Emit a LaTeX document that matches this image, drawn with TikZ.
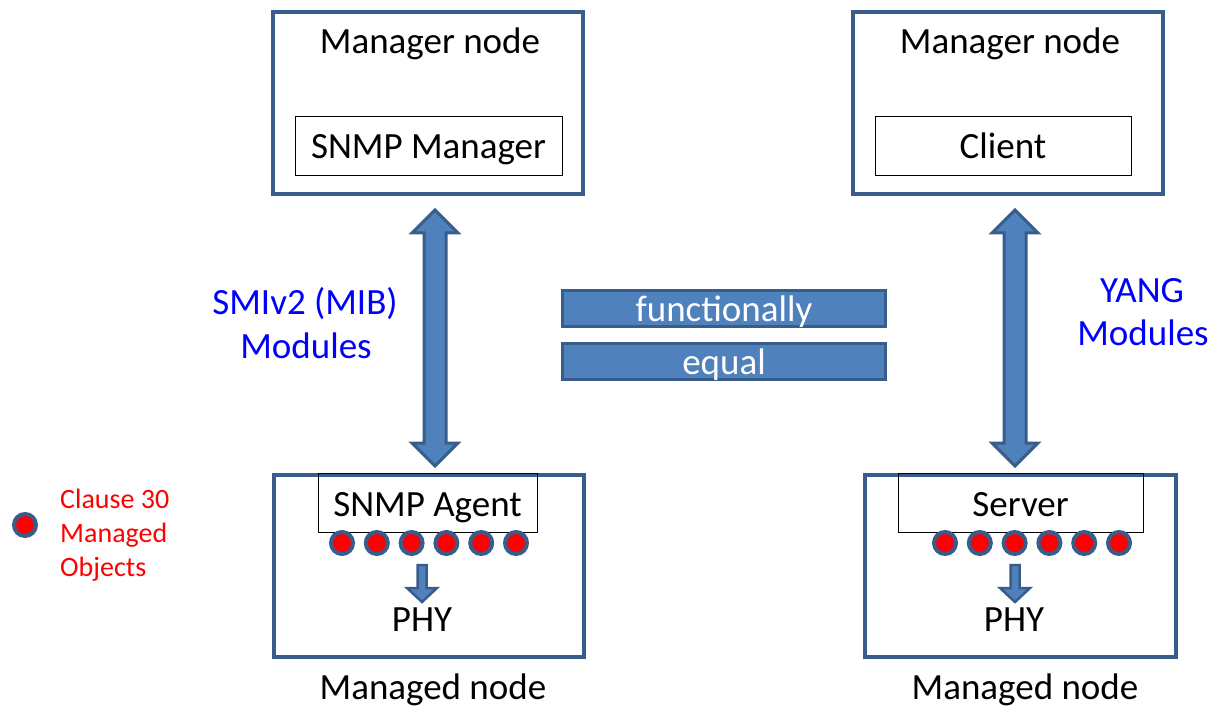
\documentclass[tikz,border=0pt]{standalone}
\usepackage{fontspec}
\setmainfont{Carlito}
\definecolor{edgeblue}{HTML}{385D8A}
\definecolor{shapeblue}{HTML}{4F81BD}
\definecolor{objred}{HTML}{FF0000}
\definecolor{modblue}{HTML}{0000FF}
\tikzset{
  nodebox/.style={draw=edgeblue, line width=4pt, inner sep=0pt, minimum height=182pt},
  innerbox/.style={draw=black, line width=0.9pt, inner sep=0pt, minimum height=59pt},
  lbl/.style={anchor=base, inner sep=0pt, font=\fontsize{37}{44}\selectfont},
  modlbl/.style={lbl, text=modblue},
  barlbl/.style={lbl, text=white},
  keytext/.style={anchor=base west, inner sep=0pt, text=objred, font=\fontsize{28}{33}\selectfont},
  mobj/.style={circle, draw=edgeblue, fill=objred, line width=4pt, minimum size=22pt, inner sep=0pt},
  eqbar/.style={draw=edgeblue, fill=shapeblue, line width=3pt, minimum width=323pt, minimum height=36pt, inner sep=0pt},
  blockarrow/.style={draw=edgeblue, fill=shapeblue, line width=3pt, line join=miter},
  twoway/.pic={
    \path[blockarrow] (0,-128) -- (23,-105) -- (11,-105) -- (11,105) -- (23,105)
      -- (0,128) -- (-23,105) -- (-11,105) -- (-11,-105) -- (-23,-105) -- cycle;
  },
  downstep/.pic={
    \path[blockarrow, line width=2.5pt] (-4.5,0) -- (4.5,0) -- (4.5,23) -- (15,23)
      -- (0,37) -- (-15,23) -- (-4.5,23) -- cycle;
  }
}
\begin{document}
\begin{tikzpicture}[x=1pt, y=-1pt]
\useasboundingbox (0,0) rectangle (1212,708);

% manager side (top)
\node[nodebox, minimum width=310pt] (mgrL) at (428,103) {};
\node[nodebox, minimum width=310pt] (mgrR) at (1008,103) {};
\node[lbl] (mgrLt) at (430,54) {Manager node};
\node[lbl] (mgrRt) at (1010,54) {Manager node};
\node[innerbox, minimum width=267pt] (snmpmgr) at (428.5,145.5) {};
\node[lbl] (snmpmgrt) at (428.5,159) {SNMP Manager};
\node[innerbox, minimum width=256pt] (client) at (1003,145.5) {};
\node[lbl] (clientt) at (1003,159) {Client};

% managed side (bottom)
\node[nodebox, minimum width=310pt] (mgdL) at (429,566) {};
\node[nodebox, minimum width=311pt] (mgdR) at (1020.5,566) {};
\node[innerbox, minimum width=219pt] (agent) at (427.5,502.5) {};
\node[lbl] (agentt) at (427.5,516) {SNMP Agent};
\node[innerbox, minimum width=245pt] (server) at (1020.5,502.5) {};
\node[lbl] (servert) at (1020.5,516) {Server};
\node[lbl] (phyL) at (422,631) {PHY};
\node[lbl] (phyR) at (1014,631) {PHY};
\node[lbl] (mgdLt) at (433,699) {Managed node};
\node[lbl] (mgdRt) at (1025,699) {Managed node};

% managed objects
\foreach \i in {0,...,5} {
  \node[mobj] (objL\i) at ({342+34.8*\i},543) {};
  \node[mobj] (objR\i) at ({945+34.8*\i},543) {};
}
\pic at (422,565) {downstep};
\pic at (1015,565) {downstep};

% protocol arrows
\pic at (435,338) {twoway};
\pic at (1015,338) {twoway};

\node[modlbl] (smiA) at (305,315) {SMIv2 (MIB)};
\node[modlbl] (smiB) at (306,358) {Modules};
\node[modlbl] (yangA) at (1142,303) {YANG};
\node[modlbl] (yangB) at (1143,345) {Modules};

% equivalence sign
\node[eqbar] (barA) at (724,308.5) {};
\node[eqbar] (barB) at (724,361.5) {};
\node[barlbl] (barAt) at (724,322) {functionally};
\node[barlbl] (barBt) at (724,374) {equal};

% key
\node[mobj] (key) at (25,525) {};
\node[keytext] (keyA) at (60,508) {Clause 30};
\node[keytext] (keyB) at (60,542) {Managed};
\node[keytext] (keyC) at (60,576) {Objects};
\end{tikzpicture}
\end{document}
